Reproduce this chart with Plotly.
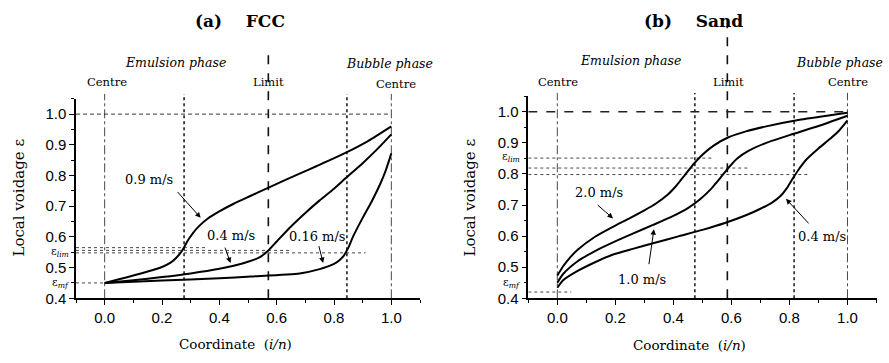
import plotly.graph_objects as go

# ---------------- data: panel (a) FCC ----------------
fcc_09_x = [0.0, 0.05, 0.10, 0.15, 0.20, 0.23, 0.25, 0.27, 0.29, 0.31, 0.33, 0.36, 0.40, 0.45, 0.51, 0.57, 0.68, 0.74, 0.845, 0.92, 1.0]
fcc_09_y = [0.450, 0.462, 0.474, 0.487, 0.502, 0.516, 0.532, 0.555, 0.588, 0.615, 0.636, 0.660, 0.683, 0.708, 0.734, 0.760, 0.806, 0.831, 0.876, 0.913, 0.960]

fcc_04_x = [0.0, 0.1, 0.2, 0.3, 0.4, 0.45, 0.50, 0.54, 0.571, 0.60, 0.65, 0.70, 0.75, 0.80, 0.845, 0.90, 0.95, 1.0]
fcc_04_y = [0.450, 0.459, 0.469, 0.481, 0.496, 0.506, 0.519, 0.533, 0.556, 0.585, 0.634, 0.678, 0.719, 0.757, 0.795, 0.840, 0.885, 0.934]

fcc_016_x = [0.0, 0.2, 0.4, 0.51, 0.68, 0.75, 0.80, 0.82, 0.835, 0.85, 0.868, 0.90, 0.93, 0.96, 0.98, 1.0]
fcc_016_y = [0.450, 0.458, 0.465, 0.471, 0.481, 0.495, 0.512, 0.525, 0.540, 0.565, 0.604, 0.662, 0.713, 0.770, 0.815, 0.872]

fcc_vlines = [0.0, 0.277, 0.571, 0.845, 1.0]
fcc_eps_lim = [0.565, 0.556, 0.548]
fcc_eps_lim_end = [0.35, 0.65, 0.91]
fcc_eps_mf = 0.45

# ---------------- data: panel (b) Sand ----------------
sand_20_x = [0.0, 0.02, 0.04, 0.07, 0.13, 0.20, 0.25, 0.30, 0.34, 0.38, 0.41, 0.44, 0.47, 0.50, 0.54, 0.59, 0.65, 0.72, 0.84, 1.0]
sand_20_y = [0.473, 0.503, 0.527, 0.556, 0.598, 0.634, 0.658, 0.683, 0.705, 0.733, 0.762, 0.797, 0.832, 0.862, 0.892, 0.918, 0.937, 0.953, 0.975, 0.997]

sand_10_x = [0.0, 0.02, 0.07, 0.13, 0.19, 0.26, 0.33, 0.40, 0.45, 0.49, 0.53, 0.56, 0.59, 0.62, 0.66, 0.72, 0.80, 0.90, 1.0]
sand_10_y = [0.450, 0.478, 0.519, 0.552, 0.579, 0.608, 0.636, 0.665, 0.690, 0.717, 0.752, 0.785, 0.820, 0.850, 0.875, 0.900, 0.925, 0.954, 0.987]

sand_04_x = [0.0, 0.02, 0.07, 0.13, 0.19, 0.26, 0.33, 0.42, 0.50, 0.58, 0.65, 0.70, 0.74, 0.77, 0.79, 0.81, 0.83, 0.86, 0.90, 0.94, 0.97, 1.0]
sand_04_y = [0.434, 0.458, 0.488, 0.516, 0.540, 0.559, 0.577, 0.600, 0.620, 0.643, 0.667, 0.688, 0.708, 0.730, 0.753, 0.783, 0.812, 0.848, 0.882, 0.913, 0.938, 0.972]

sand_vlines = [0.0, 0.474, 0.586, 0.816, 1.0]
sand_eps_lim = [0.851, 0.819, 0.798]
sand_eps_lim_end = [0.532, 0.659, 0.871]
sand_eps_mf = 0.42

# ---------------- ticks ----------------
x_ticks = [0.0, 0.2, 0.4, 0.6, 0.8, 1.0]
x_tick_labels = ["0.0", "0.2", "0.4", "0.6", "0.8", "1.0"]
y_ticks = [0.4, 0.5, 0.6, 0.7, 0.8, 0.9, 1.0]
y_tick_labels = ["0.4", "0.5", "0.6", "0.7", "0.8", "0.9", "1.0"]

# speed labels: (text, label x, label y, arrow tail x, tail y, head x, head y)
fcc_labels = [
    ("0.9 m/s", 0.156, 0.786, 0.25, 0.751, 0.335, 0.662),
    ("0.4 m/s", 0.439, 0.605, 0.418, 0.570, 0.439, 0.515),
    ("0.16 m/s", 0.742, 0.602, 0.746, 0.575, 0.762, 0.515),
]
sand_labels = [
    ("2.0 m/s", 0.144, 0.741, 0.134, 0.704, 0.192, 0.657),
    ("1.0 m/s", 0.292, 0.461, 0.315, 0.505, 0.333, 0.622),
    ("0.4 m/s", 0.912, 0.599, 0.871, 0.636, 0.788, 0.720),
]

SERIF = "DejaVu Serif"
SANS = "Liberation Sans"
W, H = 889, 363

fig = go.Figure()
for xs, ys in [(fcc_09_x, fcc_09_y), (fcc_04_x, fcc_04_y), (fcc_016_x, fcc_016_y)]:
    fig.add_trace(go.Scatter(x=xs, y=ys, mode="lines", xaxis="x", yaxis="y",
                             line=dict(color="black", width=2, shape="spline", smoothing=0.6),
                             showlegend=False, hoverinfo="skip"))
for xs, ys in [(sand_20_x, sand_20_y), (sand_10_x, sand_10_y), (sand_04_x, sand_04_y)]:
    fig.add_trace(go.Scatter(x=xs, y=ys, mode="lines", xaxis="x2", yaxis="y2",
                             line=dict(color="black", width=2, shape="spline", smoothing=0.6),
                             showlegend=False, hoverinfo="skip"))

shapes = []
ann = []

def panel(xr, yr, vlines, eps_lim, eps_lim_end, eps_mf, mf_end, y_bottom, y_top, limit_top, top_dash_w):
    styles = [("dashdot", 0.9, "#333"), ("dot", 1.6, "#222"), ("dash", 1.6, "#111"), ("dot", 1.6, "#222"), ("dashdot", 0.9, "#333")]
    for v, (d, w, c) in zip(vlines, styles):
        top = limit_top if d == "dash" else y_top
        shapes.append(dict(type="line", xref=xr, yref="paper", x0=v, x1=v, y0=y_bottom, y1=top,
                           line=dict(color=c, width=w, dash=d), layer="below"))
    shapes.append(dict(type="line", xref=xr, yref=yr, x0=-0.1, x1=vlines[-1], y0=1.0, y1=1.0,
                       line=dict(color="#222", width=top_dash_w, dash="dash" if top_dash_w > 1.2 else "4px,3px"), layer="below"))
    for yv, xe in zip(eps_lim, eps_lim_end):
        shapes.append(dict(type="line", xref=xr, yref=yr, x0=-0.1, x1=xe, y0=yv, y1=yv,
                           line=dict(color="#333", width=0.9, dash="dot"), layer="below"))
    shapes.append(dict(type="line", xref=xr, yref=yr, x0=-0.1, x1=mf_end, y0=eps_mf, y1=eps_mf,
                       line=dict(color="#333", width=0.9, dash="dot"), layer="below"))

panel("x", "y", fcc_vlines, fcc_eps_lim, fcc_eps_lim_end, fcc_eps_mf, 0.0, 1 - 305 / H, 1 - 96 / H, 1 - 52 / H, 0.9)
panel("x2", "y2", sand_vlines, sand_eps_lim, sand_eps_lim_end, sand_eps_mf, 0.048, 1 - 305 / H, 1 - 95 / H, 1 - 15 / H, 1.6)

for labels, xr, yr in [(fcc_labels, "x", "y"), (sand_labels, "x2", "y2")]:
    for t, lx, ly, tx, ty, hx, hy in labels:
        ann.append(dict(text=t, x=lx, y=ly, xref=xr, yref=yr, showarrow=False,
                        font=dict(family=SERIF, size=13, color="black")))
        ann.append(dict(text="", x=hx, y=hy, ax=tx, ay=ty, xref=xr, yref=yr, axref=xr, ayref=yr,
                        showarrow=True, arrowhead=2, arrowsize=1.1, arrowwidth=1, arrowcolor="black"))

def ptext(t, px, py, size=13, **kw):
    ann.append(dict(text=t, x=px / W, y=1 - py / H, xref="paper", yref="paper", showarrow=False,
                    xanchor="center", yanchor="middle", font=dict(family=SERIF, size=size, color="black"), **kw))

nb = "\u00a0"
ptext("<b>(a)" + nb * 4 + "FCC</b>", 240, 21, size=17)
ptext("<b>(b)" + nb * 4 + "Sand</b>", 693, 21, size=17)
ptext("<i>Emulsion phase</i>", 175, 64, size=12.5)
ptext("<i>Bubble phase</i>", 389, 65, size=12.5)
ptext("<i>Emulsion phase</i>", 630, 62, size=12.5)
ptext("<i>Bubble phase</i>", 839, 64, size=12.5)
ptext("Centre", 107, 84, size=11.5)
ptext("Limit", 268, 84, size=11.5)
ptext("Centre", 396, 86, size=11.5)
ptext("Centre", 558, 84, size=11.5)
ptext("Limit", 728, 84, size=11.5)
ptext("Centre", 848, 84, size=11.5)
ptext("Local voidage ε", 19, 202, size=15, textangle=-90)
ptext("Local voidage ε", 470, 202, size=15, textangle=-90)
ptext("Coordinate" + nb * 2 + "(<i>i/n</i>)", 236, 352, size=13.5)
ptext("Coordinate" + nb * 2 + "(<i>i/n</i>)", 689, 353, size=13.5)
ptext("ε<sub><i>lim</i></sub>", 60, 258, size=11)
ptext("ε<sub><i>mf</i></sub>", 60, 289, size=11)
ptext("ε<sub><i>lim</i></sub>", 511, 161, size=11)
ptext("ε<sub><i>mf</i></sub>", 511, 289, size=11)

def xaxis(domain, anchor):
    return dict(domain=domain, anchor=anchor, range=[-0.1, 1.1], showline=True, linecolor="black", linewidth=1.5,
                showgrid=False, zeroline=False, ticks="outside", ticklen=5, tickwidth=1.2, tickcolor="black",
                tickvals=x_ticks, ticktext=x_tick_labels, tickfont=dict(family=SANS, size=15, color="black"),
                minor=dict(tickvals=[-0.1, 0.1, 0.3, 0.5, 0.7, 0.9, 1.1], ticklen=3, ticks="outside", tickcolor="black", showgrid=False),
                fixedrange=True)

def yaxis(domain, anchor):
    return dict(domain=domain, anchor=anchor, range=[0.4, 1.05], showline=True, linecolor="black", linewidth=1.5,
                showgrid=False, zeroline=False, ticks="outside", ticklen=5, tickwidth=1.2, tickcolor="black",
                tickvals=y_ticks, ticktext=y_tick_labels, tickfont=dict(family=SANS, size=15, color="black"),
                minor=dict(tickvals=[0.45, 0.55, 0.65, 0.75, 0.85, 0.95, 1.05], ticklen=3, ticks="outside", tickcolor="black", showgrid=False),
                fixedrange=True)

fig.update_layout(
    width=W, height=H, margin=dict(l=0, r=0, t=0, b=0),
    paper_bgcolor="white", plot_bgcolor="rgba(0,0,0,0)",
    font=dict(family=SERIF),
    xaxis=xaxis([76 / W, 420 / W], "y"),
    yaxis=yaxis([1 - 305 / H, 1 - 101 / H], "x"),
    xaxis2=xaxis([528.3 / W, 876.5 / W], "y2"),
    yaxis2=yaxis([1 - 305 / H, 1 - 98.4 / H], "x2"),
    shapes=shapes, annotations=ann, showlegend=False,
)

fig.write_html("out.html")
